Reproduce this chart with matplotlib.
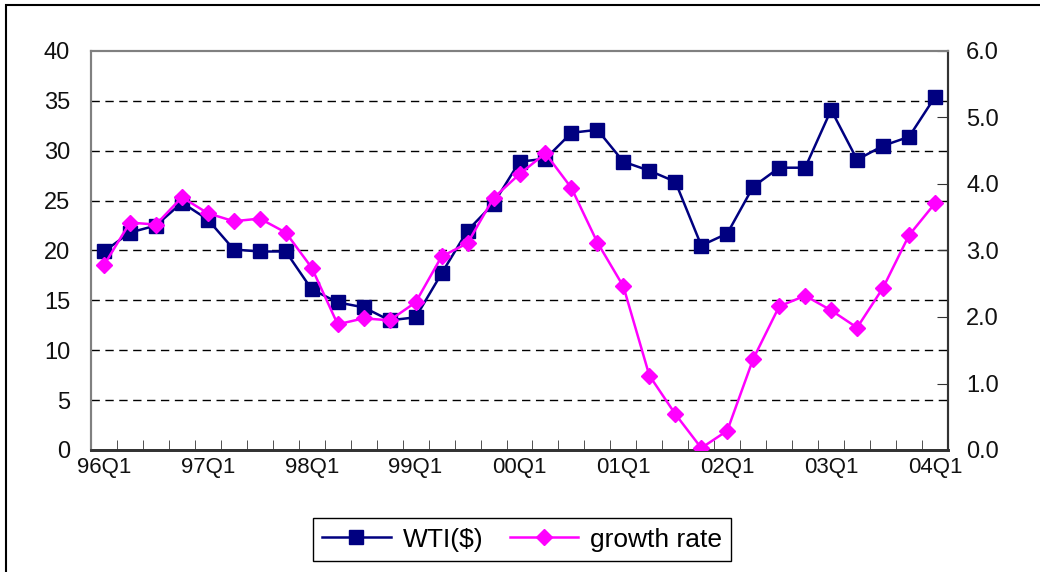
import matplotlib
matplotlib.use("Agg")
import matplotlib.pyplot as plt
import numpy as np
from matplotlib.patches import Rectangle

quarters = ["96Q1","96Q2","96Q3","96Q4","97Q1","97Q2","97Q3","97Q4",
            "98Q1","98Q2","98Q3","98Q4","99Q1","99Q2","99Q3","99Q4",
            "00Q1","00Q2","00Q3","00Q4","01Q1","01Q2","01Q3","01Q4",
            "02Q1","02Q2","02Q3","02Q4","03Q1","03Q2","03Q3","03Q4","04Q1"]
wti = [19.9, 21.8, 22.5, 24.8, 23.1, 20.1, 19.9, 19.9,
       16.1, 14.8, 14.3, 13.0, 13.3, 17.7, 22.0, 24.7,
       28.9, 29.2, 31.8, 32.1, 28.9, 28.0, 26.9, 20.5,
       21.7, 26.4, 28.3, 28.3, 34.1, 29.1, 30.5, 31.4, 35.4]
growth = [2.78, 3.42, 3.39, 3.80, 3.56, 3.44, 3.48, 3.27,
          2.74, 1.89, 1.98, 1.95, 2.22, 2.91, 3.11, 3.79,
          4.15, 4.46, 3.94, 3.12, 2.46, 1.12, 0.54, 0.03,
          0.29, 1.37, 2.16, 2.32, 2.10, 1.84, 2.44, 3.23, 3.71]
left_ticks = [0, 5, 10, 15, 20, 25, 30, 35, 40]
right_ticks = [0.0, 1.0, 2.0, 3.0, 4.0, 5.0, 6.0]

plt.rcParams['font.family'] = ['Liberation Sans', 'DejaVu Sans']
fig = plt.figure(figsize=(10.4, 5.72), dpi=100)
ax = fig.add_axes([91/1040, 1-450/572, (948-91)/1040, (450-51)/572])
ax2 = ax.twinx()

x = np.arange(len(quarters))
l1, = ax.plot(x, wti, color="#000080", lw=1.8, marker="s", markersize=10,
              markerfacecolor="#000080", markeredgecolor="#000080", label="WTI($)", zorder=3)
l2, = ax2.plot(x, growth, color="#FF00FF", lw=1.8, marker="D", markersize=8,
               markerfacecolor="#FF00FF", markeredgecolor="#FF00FF", label="growth rate", zorder=3)

ax.set_xlim(-0.5, len(quarters)-0.5)
ax.set_ylim(0, 40)
ax2.set_ylim(0, 6.0)
ax.set_yticks(left_ticks)
ax.set_yticklabels([str(v) for v in left_ticks], fontsize=17)
ax2.set_yticks(right_ticks)
ax2.set_yticklabels([f"{v:.1f}" for v in right_ticks], fontsize=17)
ax.tick_params(axis='y', length=0, pad=15, labelcolor="#111111")
ax2.tick_params(axis='y', direction='in', length=8, pad=13, colors="#333333", labelcolor="#111111")

ax.set_xticks(x[::4])
ax.set_xticklabels(quarters[::4], fontsize=16)
ax.set_xticks(np.arange(-0.5, len(quarters), 1), minor=True)
ax.tick_params(axis='x', which='major', length=0, pad=5, labelcolor="#111111")
ax.tick_params(axis='x', which='minor', direction='in', length=7, color="#333333")
ax2.tick_params(axis='x', length=0)

for v in left_ticks[1:-1]:
    ax.axhline(v, color="black", lw=1.0, ls=(0, (6, 4)), zorder=1)

for a in (ax, ax2):
    a.spines['top'].set_color("#808080")
    a.spines['left'].set_color("#808080")
    a.spines['right'].set_color("#333333")
    a.spines['bottom'].set_color("#333333")
    a.spines['top'].set_linewidth(1.5)
    a.spines['left'].set_linewidth(1.5)
    a.spines['right'].set_linewidth(1.5)
    a.spines['bottom'].set_linewidth(2.0)

fig.patches.append(Rectangle((6/1040, -0.1), 1.2, 0.1 + (1 - 5/572), transform=fig.transFigure,
                             fill=False, edgecolor="black", lw=1.5))

leg = fig.legend([l1, l2], ["WTI($)", "growth rate"], loc="center",
                 bbox_to_anchor=(522/1040, 1-539.5/572), ncol=2, fontsize=19,
                 frameon=True, fancybox=False, edgecolor="black", framealpha=1,
                 handlelength=2.6, columnspacing=1.0, borderpad=0.35, handletextpad=0.45)
leg.get_frame().set_linewidth(1.0)

fig.savefig("out.png", dpi=100)
